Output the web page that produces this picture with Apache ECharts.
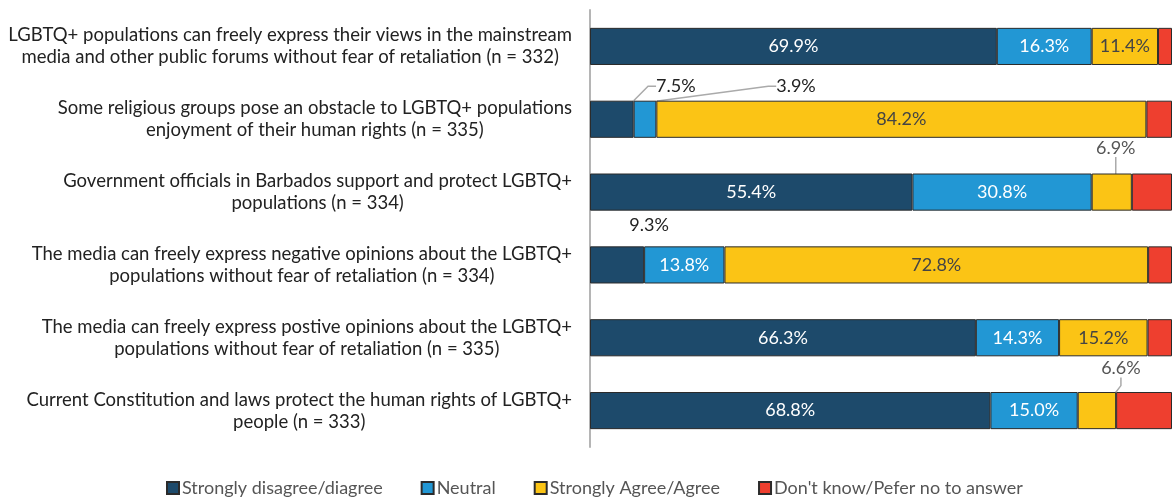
<!DOCTYPE html>
<html>
<head>
<meta charset="utf-8">
<script src="https://cdn.jsdelivr.net/npm/echarts@6/dist/echarts.min.js"></script>
<style>
  html, body { margin: 0; padding: 0; background: #fff; }
  #chart { width: 1172px; height: 500px; }
</style>
</head>
<body>
<div id="chart"></div>
<script>
// Survey statements (top to bottom)
const categories = [
  'LGBTQ+ populations can freely express their views in the mainstream\nmedia and other public forums without fear of retaliation (n = 332)',
  'Some religious groups pose an obstacle to LGBTQ+ populations\nenjoyment of their human rights (n = 335)',
  'Government officials in Barbados support and protect LGBTQ+\npopulations (n = 334)',
  'The media can freely express negative opinions about the LGBTQ+\npopulations without fear of retaliation (n = 334)',
  'The media can freely express postive opinions about the LGBTQ+\npopulations without fear of retaliation (n = 335)',
  'Current Constitution and laws protect the human rights of LGBTQ+\npeople (n = 333)'
];

const seriesNames = [
  'Strongly disagree/diagree',
  'Neutral',
  'Strongly Agree/Agree',
  "Don't know/Pefer no to answer"
];

// Shares of respondents, in percent
const disagree = [69.9, 7.5, 55.4, 9.3, 66.3, 68.8];
const neutral  = [16.3, 3.9, 30.8, 13.8, 14.3, 15.0];
const agree    = [11.4, 84.2, 6.9, 72.8, 15.2, 6.6];
const dontKnow = [2.4, 4.4, 6.9, 4.1, 4.2, 9.6];

const colors = ['#1d4a6b', '#2297d4', '#fbc415', '#ee3f2f'];
const insideLabelColors = ['#ffffff', '#ffffff', '#444444', '#ffffff'];

// Narrow segments get their label lifted above the bar: [seriesIndex, rowIndex] -> offset
const liftedLabels = {
  '0-1': { dx: 64, dy: -33, color: '#222', line: true },
  '1-1': { dx: 151, dy: -33, color: '#222', line: true },
  '2-2': { dx: 4, dy: -44, color: '#555', line: true },
  '0-3': { dx: 32, dy: -40, color: '#222', line: false },
  '2-5': { dx: 24, dy: -42, color: '#555', line: true }
};

const values = [disagree, neutral, agree, dontKnow];

const FONT = 'Lato';

const series = values.map((vals, si) => ({
  name: seriesNames[si],
  type: 'bar',
  stack: 'total',
  barWidth: '51%',
  itemStyle: { color: colors[si], borderColor: '#2b2b2b', borderWidth: 1 },
  label: {
    show: si !== 3,
    position: 'inside',
    fontFamily: FONT,
    fontSize: 18,
    color: insideLabelColors[si],
    formatter: p => p.value.toFixed(1) + '%'
  },
  labelLine: { show: false, lineStyle: { color: '#aaaaaa', width: 1.5 }, length2: 8 },
  labelLayout: params => {
    const cfg = liftedLabels[si + '-' + params.dataIndex];
    if (!cfg) return {};
    return { dx: cfg.dx, dy: cfg.dy };
  },
  data: vals.map((v, ri) => {
    const cfg = liftedLabels[si + '-' + ri];
    if (!cfg) return v;
    return {
      value: v,
      label: { color: cfg.color },
      labelLine: { show: cfg.line }
    };
  })
}));

const chart = echarts.init(document.getElementById('chart'), null, { renderer: 'canvas' });
chart.setOption({
  animation: false,
  color: colors,
  grid: { left: 590, right: 0, top: 10, bottom: 53, containLabel: false },
  xAxis: {
    type: 'value',
    min: 0,
    max: 100,
    show: false
  },
  yAxis: {
    type: 'category',
    data: categories,
    inverse: true,
    axisLine: { show: true, lineStyle: { color: '#b5b5b5', width: 2 } },
    axisTick: { show: false },
    axisLabel: {
      margin: 18,
      formatter: v => '{c|' + v + '}',
      rich: {
        c: {
          align: 'center',
          fontFamily: FONT,
          fontSize: 18.5,
          lineHeight: 22,
          color: '#222'
        }
      }
    }
  },
  legend: {
    bottom: 3,
    padding: 0,
    left: 166,
    icon: 'rect',
    itemWidth: 12,
    itemHeight: 12,
    itemGap: 38,
    textStyle: { fontFamily: FONT, fontSize: 18, color: '#555', padding: [0, 0, 0, -2] },
    data: seriesNames
  },
  series: series
});
</script>
</body>
</html>
